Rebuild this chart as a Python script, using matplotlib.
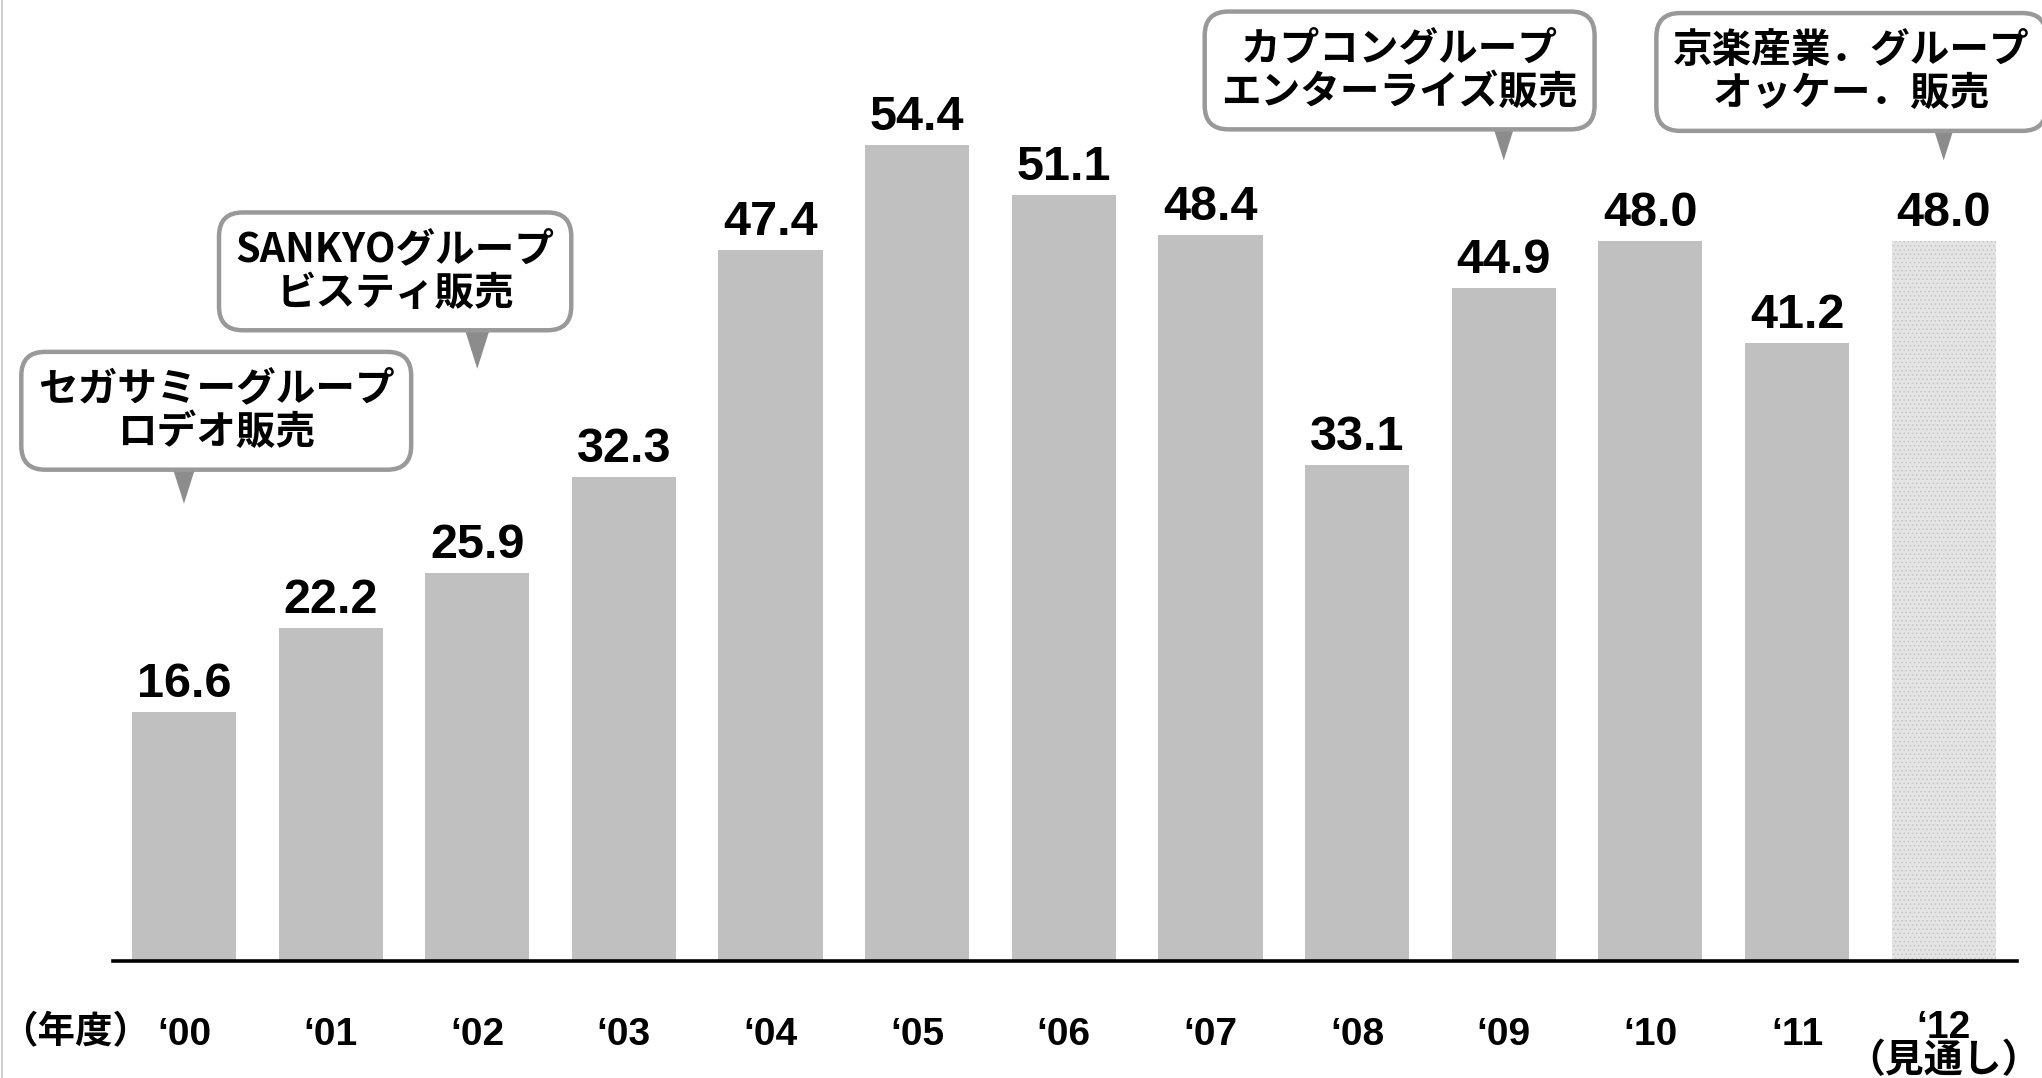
import matplotlib
matplotlib.use("Agg")
import matplotlib.pyplot as plt
from matplotlib.patches import Polygon
from matplotlib.lines import Line2D
from matplotlib.transforms import ScaledTranslation

# data
years = ["‘00", "‘01", "‘02", "‘03", "‘04", "‘05", "‘06", "‘07", "‘08", "‘09", "‘10", "‘11", "‘12\n（見通し）"]
values = [16.6, 22.2, 25.9, 32.3, 47.4, 54.4, 51.1, 48.4, 33.1, 44.9, 48.0, 41.2, 48.0]

# callouts: text, box centre (x, y), bar index the pointer goes to, pointer tip height
callout_texts = ["セガサミーグループ\nロデオ販売",
                 "SANKYOグループ\nビスティ販売",
                 "カプコングループ\nエンターライズ販売",
                 "京楽産業．グループ\nオッケー．販売"]
callout_x = [0.22, 1.44, 8.29, 11.37]
callout_y = [36.7, 46.0, 59.4, 59.3]
callout_bar = [0, 2, 9, 12]
callout_tip = [30.5, 39.5, 53.4, 53.4]

num_font = ["Liberation Sans Narrow", "Liberation Sans", "Noto Sans CJK JP"]
jp_font = ["Noto Sans CJK JP", "DejaVu Sans"]

plt.rcParams["hatch.linewidth"] = 0.6

fig = plt.figure(figsize=(20.42, 10.78), dpi=100)
ax = fig.add_axes([113 / 2042, 117 / 1078, (2017 - 113) / 2042, 961 / 1078])

x = list(range(len(values)))
bars = ax.bar(x, values, width=0.71, color="#c0c0c0", linewidth=0, zorder=2)
# forecast bar with dotted fill
bars[-1].set_facecolor("#e4e4e4")
bars[-1].set_hatch("....")
bars[-1].set_edgecolor("#c4c4c4")

for xi, v in zip(x, values):
    ax.text(xi, v + 1.0, f"{v:.1f}", ha="center", va="baseline",
            fontsize=35, fontweight="bold", family=num_font, zorder=5)

ax.set_xlim(-0.484, 12.50)
ax.set_ylim(0, 64.1)
ax.set_xticks(x)
ax.set_xticklabels(years, fontsize=28, fontweight="bold", family=num_font, linespacing=0.9)
ax.tick_params(axis="x", length=0, pad=40)
# the forecast label sits a little higher than the others
last = ax.get_xticklabels()[-1]
last.set_transform(last.get_transform() + ScaledTranslation(0, 0.065, fig.dpi_scale_trans))
ax.set_yticks([])
for s in ["top", "right", "left"]:
    ax.spines[s].set_visible(False)
ax.spines["bottom"].set_linewidth(2.6)
ax.spines["bottom"].set_color("black")
ax.spines["bottom"].set_zorder(4)

# callout boxes with pointer triangles
for txt, bx, by, bi, tip in zip(callout_texts, callout_x, callout_y, callout_bar, callout_tip):
    tri = Polygon([(bi - 0.11, tip + 3.4), (bi + 0.11, tip + 3.4), (bi, tip)],
                  closed=True, facecolor="#8c8c8c", edgecolor="none", zorder=6)
    ax.add_patch(tri)
    ax.text(bx, by, txt, ha="center", va="center", fontsize=28.5, fontweight="bold",
            family=jp_font, linespacing=1.08, zorder=7,
            bbox=dict(boxstyle="round,pad=0.42,rounding_size=0.6", facecolor="white",
                      edgecolor="#999999", linewidth=3.2))

fig.text(0.0, 35 / 1078, "（年度）", ha="left", va="baseline", fontsize=27,
         fontweight="bold", family=jp_font)

fig.add_artist(Line2D([0.0012, 0.0012], [0, 1], color="#c8c8c8", linewidth=1.2,
                      transform=fig.transFigure))

fig.savefig("out.png", dpi=100, facecolor="white")
